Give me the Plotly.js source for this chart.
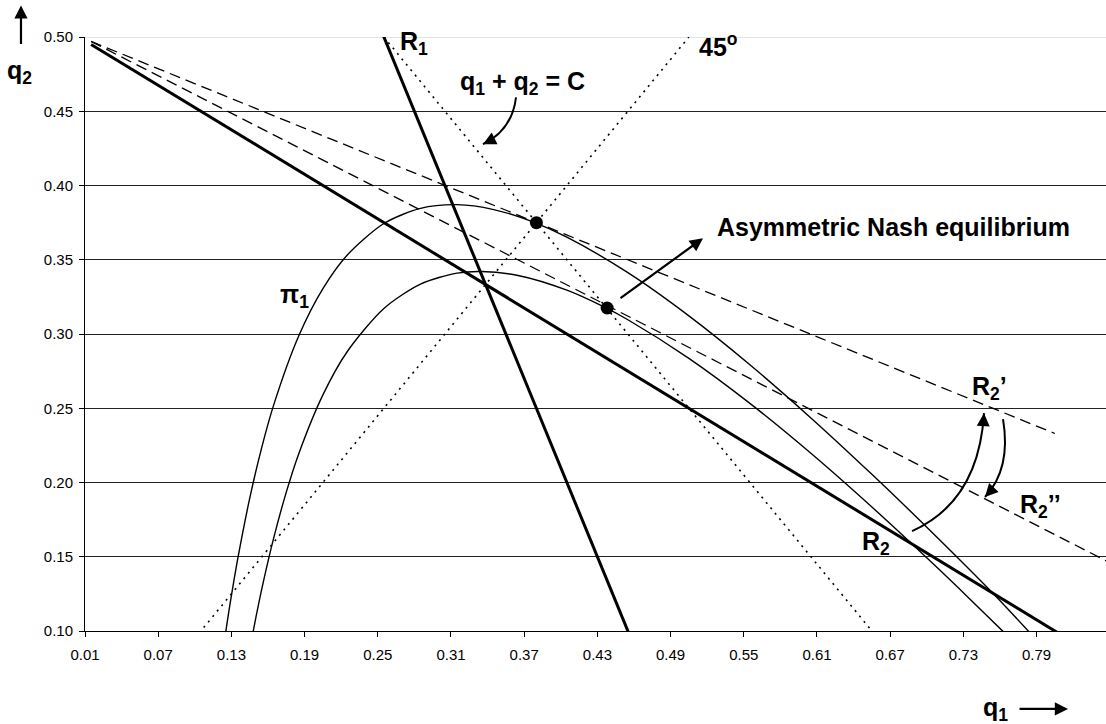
<!DOCTYPE html>
<html>
<head>
<meta charset="utf-8">
<script src="https://cdn.plot.ly/plotly-3.0.1.min.js"></script>
<style>html,body{margin:0;padding:0;background:#fff;overflow:hidden}</style>
</head>
<body>
<div id="chart" style="width:1106px;height:724px"></div>
<script>
// ---- data ----
const xTicks = [0.01, 0.07, 0.13, 0.19, 0.25, 0.31, 0.37, 0.43, 0.49, 0.55, 0.61, 0.67, 0.73, 0.79];
const xTickText = ['0.01','0.07','0.13','0.19','0.25','0.31','0.37','0.43','0.49','0.55','0.61','0.67','0.73','0.79'];
const yTicks = [0.10, 0.15, 0.20, 0.25, 0.30, 0.35, 0.40, 0.45, 0.50];
const yTickText = ['0.10','0.15','0.20','0.25','0.30','0.35','0.40','0.45','0.50'];

const r2X = [0.015, 0.815];
const r2Y = [0.495, 0.095];
const r1X = [0.2525, 0.4575];
const r1Y = [0.505, 0.095];
const r2pX = [0.015, 0.805];
const r2pY = [0.497, 0.233];
const r2ppX = [0.015, 0.85];
const r2ppY = [0.497, 0.146];
const cLineX = [0.255, 0.66];
const cLineY = [0.50, 0.095];
const diagX = [0.10, 0.505];
const diagY = [0.095, 0.50];

const outerX = [0.125, 0.1275, 0.13, 0.135, 0.145, 0.155, 0.165, 0.185, 0.205, 0.225, 0.255, 0.285, 0.315, 0.345, 0.375, 0.405, 0.455, 0.505, 0.555, 0.605, 0.655, 0.705, 0.755, 0.786];
const outerY = [0.0975, 0.111, 0.1238, 0.1477, 0.1893, 0.224, 0.2531, 0.2983, 0.3305, 0.3532, 0.3744, 0.3846, 0.3871, 0.3838, 0.3762, 0.3652, 0.3413, 0.3122, 0.2793, 0.2435, 0.2055, 0.1659, 0.1248, 0.0975];
const innerX = [0.1475, 0.15, 0.155, 0.165, 0.175, 0.185, 0.205, 0.225, 0.255, 0.285, 0.315, 0.335, 0.365, 0.405, 0.435, 0.455, 0.505, 0.555, 0.605, 0.655, 0.705, 0.735, 0.762, 0.765];
const innerY = [0.0982, 0.1088, 0.1287, 0.1637, 0.1935, 0.2189, 0.259, 0.2882, 0.3172, 0.3336, 0.341, 0.3421, 0.3394, 0.3295, 0.3184, 0.3096, 0.2836, 0.2533, 0.2197, 0.1835, 0.1454, 0.1218, 0.1001, 0.0976];

const nashX = [0.38, 0.438];
const nashY = [0.375, 0.3175];

// ---- traces ----
const F = 'Arial, "Liberation Sans", sans-serif';
function line(x, y, width, dash, shape) {
  return {x: x, y: y, mode: 'lines', type: 'scatter', cliponaxis: false, hoverinfo: 'skip',
          line: {color: '#000', width: width, dash: dash || 'solid', shape: shape || 'linear', smoothing: 0.8}};
}
const traces = [
  line(outerX, outerY, 1.4, 'solid', 'spline'),
  line(innerX, innerY, 1.4, 'solid', 'spline'),
  line(cLineX, cLineY, 1.6, '2px,5px'),
  line(diagX, diagY, 1.6, '2px,5px'),
  line(r2pX, r2pY, 1.3, '11px,6px'),
  line(r2ppX, r2ppY, 1.3, '11px,6px'),
  line(r2X, r2Y, 3),
  line(r1X, r1Y, 3),
  {x: nashX, y: nashY, mode: 'markers', type: 'scatter', cliponaxis: false, hoverinfo: 'skip',
   marker: {color: '#000', size: 13}}
];

const lblFont = {family: F, size: 25, color: '#000'};
function lbl(text, x, y, xanchor) {
  return {text: '<b>' + text + '</b>', x: x, y: y, xref: 'x', yref: 'y', showarrow: false,
          xanchor: xanchor || 'center', yanchor: 'middle', font: lblFont};
}
function head(x, y, ax, ay) {
  return {text: '', x: x, y: y, xref: 'x', yref: 'y', showarrow: true, arrowhead: 2,
          arrowsize: 1.3, arrowwidth: 2, arrowcolor: '#000', ax: ax, ay: ay};
}

const annotations = [
  lbl('R<sub>1</sub>', 0.280, 0.496),
  lbl('q<sub>1</sub> + q<sub>2</sub> = C', 0.3158, 0.4688, 'left'),
  lbl('45<sup>o</sup>', 0.5117, 0.4944, 'left'),
  lbl('π<sub>1</sub>', 0.1821, 0.3255),
  lbl('Asymmetric Nash equilibrium', 0.5264, 0.3719, 'left'),
  lbl('R<sub>2</sub>’', 0.7518, 0.2635),
  lbl('R<sub>2</sub>’’', 0.7928, 0.1841),
  lbl('R<sub>2</sub>', 0.6584, 0.1592),
  // straight arrow to the label
  {text: '', x: 0.5166, y: 0.3645, ax: 0.4477, ay: 0.3234, xref: 'x', yref: 'y', axref: 'x', ayref: 'y',
   showarrow: true, arrowhead: 2, arrowsize: 1.2, arrowwidth: 2.2, arrowcolor: '#000'},
  // arrowheads of the curved arrows
  head(0.3362, 0.4278, 9, -4.5),
  head(0.7469, 0.2467, -0.6, 10),
  head(0.7477, 0.1902, 7, -7.5),
  // axis titles with arrows
  {text: '<b>q<sub>2</sub></b>', xref: 'paper', yref: 'paper', x: -0.0637, y: 0.9404, showarrow: false,
   xanchor: 'center', yanchor: 'middle', font: lblFont},
  {text: '', xref: 'paper', yref: 'paper', x: -0.0627, y: 1.0532, ax: 0, ay: 40, showarrow: true,
   arrowhead: 2, arrowsize: 1.2, arrowwidth: 2.2, arrowcolor: '#000'},
  {text: '<b>q<sub>1</sub></b>', xref: 'paper', yref: 'paper', x: 0.8913, y: -0.1312, showarrow: false,
   xanchor: 'center', yanchor: 'middle', font: lblFont},
  {text: '', xref: 'paper', yref: 'paper', x: 0.9628, y: -0.1312, ax: -50, ay: 0, showarrow: true,
   arrowhead: 2, arrowsize: 1.2, arrowwidth: 2.2, arrowcolor: '#000'}
];

const shapes = [
  {type: 'line', xref: 'paper', yref: 'y', x0: 0, x1: 1, y0: 0.50, y1: 0.50, layer: 'below',
   line: {color: '#c8c8c8', width: 1.2}},
  {type: 'path', xref: 'x', yref: 'y', path: 'M 0.3633,0.4594 Q 0.36,0.4372 0.3362,0.4278',
   line: {color: '#000', width: 2}},
  {type: 'path', xref: 'x', yref: 'y', path: 'M 0.6879,0.1673 Q 0.7425,0.1872 0.7469,0.2467',
   line: {color: '#000', width: 2}},
  {type: 'path', xref: 'x', yref: 'y', path: 'M 0.7625,0.2427 Q 0.7693,0.2092 0.7477,0.1902',
   line: {color: '#000', width: 2}}
];

const layout = {
  width: 1106, height: 724,
  margin: {l: 85, r: 0, t: 37, b: 93, pad: 0},
  paper_bgcolor: '#fff', plot_bgcolor: '#fff',
  showlegend: false,
  font: {family: F, color: '#000'},
  xaxis: {range: [0.01, 0.8469], tickmode: 'array', tickvals: xTicks, ticktext: xTickText,
          showgrid: false, zeroline: false, showline: true, linecolor: '#000', linewidth: 1,
          ticks: 'outside', ticklen: 5, tickcolor: '#000', ticklabelstandoff: 5,
          tickfont: {family: F, size: 15, color: '#000'}},
  yaxis: {range: [0.10, 0.50], tickmode: 'array', tickvals: yTicks, ticktext: yTickText,
          showgrid: true, gridcolor: '#222', gridwidth: 1, zeroline: false, showline: true,
          linecolor: '#000', linewidth: 1, ticks: 'outside', ticklen: 5, tickcolor: '#000',
          ticklabelstandoff: 3, tickfont: {family: F, size: 15, color: '#000'}},
  annotations: annotations,
  shapes: shapes
};

Plotly.newPlot('chart', traces, layout, {staticPlot: true, displayModeBar: false});
</script>
</body>
</html>
